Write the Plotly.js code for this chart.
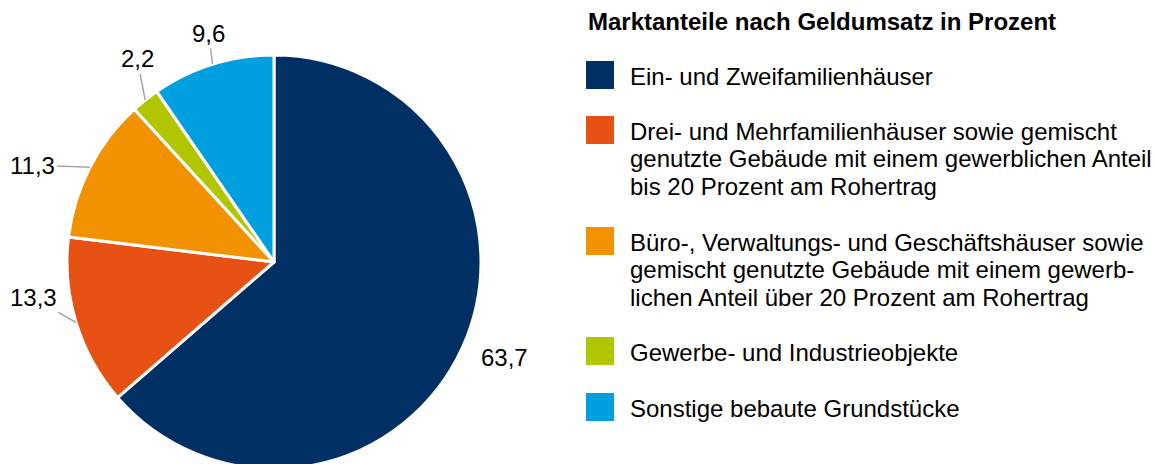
<!DOCTYPE html>
<html>
<head>
<meta charset="utf-8">
<script src="https://cdn.plot.ly/plotly-3.0.1.min.js"></script>
<style>
html,body{margin:0;padding:0;overflow:hidden;background:#fff;}
#wrap{width:1155px;height:464px;overflow:hidden;position:relative;}
#chart{width:1155px;height:474px;}
</style>
</head>
<body>
<div id="wrap"><div id="chart"></div></div>
<script>
const categories = [
  "Ein- und Zweifamilienhäuser",
  "Drei- und Mehrfamilienhäuser sowie gemischt<br>genutzte Gebäude mit einem gewerblichen Anteil<br>bis 20 Prozent am Rohertrag",
  "Büro-, Verwaltungs- und Geschäftshäuser sowie<br>gemischt genutzte Gebäude mit einem gewerb-<br>lichen Anteil über 20 Prozent am Rohertrag",
  "Gewerbe- und Industrieobjekte",
  "Sonstige bebaute Grundstücke"
];
const values = [63.7, 13.3, 11.3, 2.2, 9.6];
const colors = ["#003063", "#E75113", "#F39200", "#B2C600", "#009FE0"];
const legendTitle = "Marktanteile nach Geldumsatz in Prozent";

// layout / style settings (not data)
const W = 1155, H = 474;
const FONT = 'Liberation Sans, Arial, sans-serif';
const pie = {cx: 274, cy: 262, r: 207};
// pixel offset of each value label from the slice's outer edge midpoint
const labelOffsets = [[42, 10], [-43, -25], [-57, -2], [-8, -41], [-4, -31]];
const labelHasLine = [false, true, true, true, true];
const squareCenters = [75, 130, 241, 351, 407];
const lineGap = 27.5;

const py = p => 1 - p / H;
const px = p => p / W;

const trace = {
  type: 'pie',
  values: values,
  labels: categories,
  marker: {colors: colors, line: {color: '#ffffff', width: 3}},
  sort: false,
  direction: 'clockwise',
  rotation: 0,
  textinfo: 'none',
  hoverinfo: 'label+value',
  showlegend: false,
  automargin: false,
  domain: {x: [px(pie.cx - pie.r), px(pie.cx + pie.r)], y: [py(pie.cy + pie.r), py(pie.cy - pie.r)]}
};

const shapes = [];
const annotations = [{
  text: '<b>' + legendTitle + '</b>',
  xref: 'paper', yref: 'paper', x: px(586), y: py(21), xanchor: 'left', yanchor: 'middle',
  showarrow: false, font: {family: FONT, size: 24, color: '#000'}
}];

// value labels at the outer edge of each slice (angles derived from the values)
const total = values.reduce((a, b) => a + b, 0);
let cum = 0;
values.forEach((v, i) => {
  const mid = (cum + v / 2) / total * 2 * Math.PI;
  cum += v;
  const ex = pie.cx + pie.r * Math.sin(mid);
  const ey = pie.cy - pie.r * Math.cos(mid);
  annotations.push({
    text: v.toFixed(1).replace('.', ','),
    xref: 'paper', yref: 'paper', x: px(ex), y: py(ey),
    showarrow: true, arrowhead: 0, arrowwidth: 1.5, standoff: 0,
    arrowcolor: labelHasLine[i] ? '#A6A6A6' : 'rgba(0,0,0,0)',
    ax: labelOffsets[i][0], ay: labelOffsets[i][1],
    font: {family: FONT, size: 24, color: '#000'}
  });
});

categories.forEach((c, i) => {
  const yc = squareCenters[i];
  shapes.push({type: 'rect', xref: 'paper', yref: 'paper',
    x0: px(586), x1: px(614), y0: py(yc - 14), y1: py(yc + 14),
    fillcolor: colors[i], line: {width: 0}});
  c.split('<br>').forEach((line, j) => {
    annotations.push({
      text: line, xref: 'paper', yref: 'paper', x: px(628), y: py(yc + 1 + j * lineGap),
      xanchor: 'left', yanchor: 'middle', align: 'left', showarrow: false,
      font: {family: FONT, size: 24, color: '#000'}
    });
  });
});

const layout = {
  width: W, height: H,
  margin: {l: 0, r: 0, t: 0, b: 0},
  paper_bgcolor: '#fff',
  separators: ',.',
  shapes: shapes,
  annotations: annotations,
  font: {family: FONT}
};

Plotly.newPlot('chart', [trace], layout, {displayModeBar: false, staticPlot: true});
</script>
</body>
</html>
